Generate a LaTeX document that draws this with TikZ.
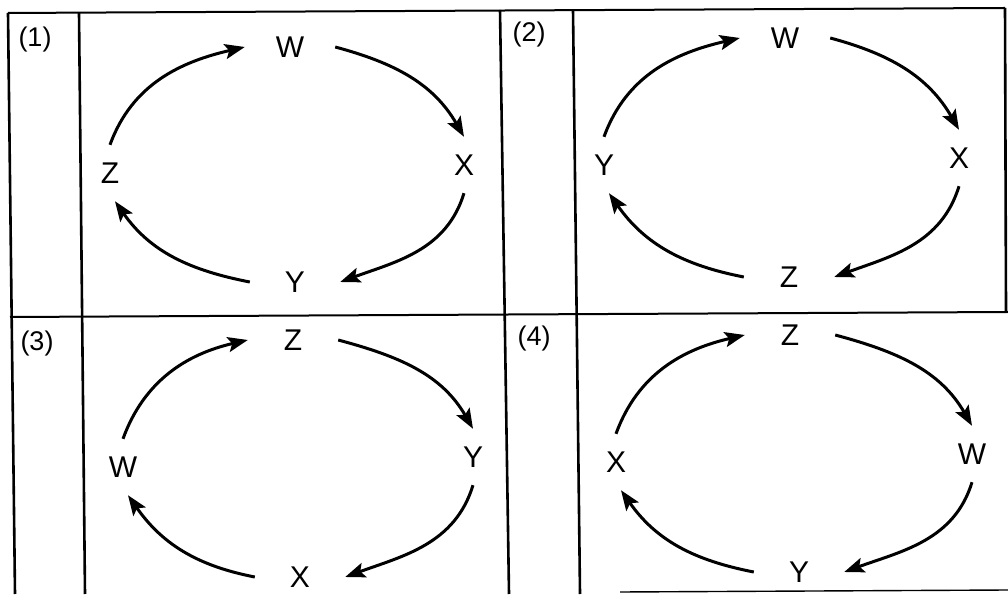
\documentclass[tikz,border=0pt]{standalone}
\usepackage{fontspec}
\setmainfont{Liberation Sans}
\usetikzlibrary{arrows.meta}
\begin{document}
\begin{tikzpicture}[x=1pt,y=1pt,
  lbl/.style={minimum width=90pt,minimum height=56pt,inner sep=0pt,font=\fontsize{30}{30}\selectfont},
  tag/.style={inner sep=0pt,font=\fontsize{27}{27}\selectfont},
  vline/.style={line width=2.6pt},
  hline/.style={line width=2pt},
  arr/.style={line width=3pt,-{Stealth[length=20pt,width=15pt,inset=4pt]}},
  tl/.style={out=70,in=193},
  tr/.style={out=-15,in=120},
  rb/.style={out=253,in=20},
  bl/.style={out=169,in=305}]
\useasboundingbox (0,0) rectangle (1008,594);
% frame
\coordinate (c1) at (8,581);
\coordinate (c2) at (1005,586);
\coordinate (c3) at (15,0);
\coordinate (c4) at (79,581);
\coordinate (c5) at (85,0);
\coordinate (c6) at (500,584);
\coordinate (c7) at (509,0);
\coordinate (c8) at (573,584);
\coordinate (c9) at (580,0);
\coordinate (c10) at (1006,282);
\coordinate (c11) at (10,277);
\coordinate (c12) at (1008,282);
\coordinate (c13) at (620,2);
\coordinate (c14) at (1008,4);
\draw[hline] (c1) -- (c2);
\draw[vline] (c1) -- (c3);
\draw[vline] (c4) -- (c5);
\draw[vline] (c6) -- (c7);
\draw[vline] (c8) -- (c9);
\draw[vline] (c2) -- (c10);
\draw[hline] (c11) -- (c12);
\draw[line width=1.4pt] (c13) -- (c14);
% tags
\node[tag] (t1) at (35,554) {(1)};
\node[tag] (t2) at (529,559) {(2)};
\node[tag] (t3) at (37,250) {(3)};
\node[tag] (t4) at (534,255) {(4)};
% panel 1
\node[lbl] (aW) at (290,547) {W};
\node[lbl] (aX) at (464,429) {X};
\node[lbl] (aY) at (295,312) {Y};
\node[lbl] (aZ) at (110,421) {Z};
\draw[arr] (aZ.north) to[tl] (aW.west);
\draw[arr] (aW.east) to[tr] (aX.north);
\draw[arr] (aX.south) to[rb] (aY.east);
\draw[arr] (aY.west) to[bl] (aZ.-80);
% panel 2
\node[lbl] (bW) at (785,556) {W};
\node[lbl] (bX) at (959,436) {X};
\node[lbl] (bZ) at (789,317) {Z};
\node[lbl] (bY) at (604,429) {Y};
\draw[arr] (bY.north) to[tl] (bW.west);
\draw[arr] (bW.east) to[tr] (bX.north);
\draw[arr] (bX.south) to[rb] (bZ.east);
\draw[arr] (bZ.west) to[bl] (bY.-80);
% panel 3
\node[lbl] (cZ) at (293,254) {Z};
\node[lbl] (cY) at (473,137) {Y};
\node[lbl] (cX) at (300,17) {X};
\node[lbl] (cW) at (123,127) {W};
\draw[arr] (cW.north) to[tl] (cZ.west);
\draw[arr] (cZ.east) to[tr] (cY.north);
\draw[arr] (cY.south) to[rb] (cX.east);
\draw[arr] (cX.west) to[bl] (cW.-80);
% panel 4
\node[lbl] (dZ) at (790,259) {Z};
\node[lbl] (dW) at (972,140) {W};
\node[lbl] (dY) at (799,22) {Y};
\node[lbl] (dX) at (616,132) {X};
\draw[arr] (dX.north) to[tl] (dZ.west);
\draw[arr] (dZ.east) to[tr] (dW.north);
\draw[arr] (dW.south) to[rb] (dY.east);
\draw[arr] (dY.west) to[bl] (dX.-80);
\end{tikzpicture}
\end{document}
